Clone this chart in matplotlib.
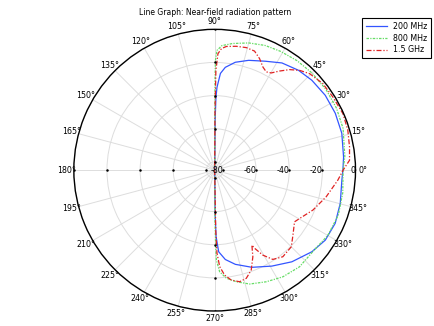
import numpy as np
import matplotlib.pyplot as plt

plt.rcParams['font.family'] = 'DejaVu Sans'
plt.rcParams['font.size'] = 5.7

title = 'Line Graph: Near-field radiation pattern'
labels = ['200 MHz', '800 MHz', '1.5 GHz']
colors = ['#3355ff', '#66dd66', '#e02222']

# angle (deg) and normalized field (dB) for each frequency
ang_200 = [-90, -89.5, -88.8, -87.2, -83.2, -77.6, -69, -59.2, -49.9, -40, -32.3, -23.8,
           -14.8, -4.5, 0, 5.8, 16.2, 25.3, 34.1, 42.8, 50, 57.9, 65.1, 72.8, 79.2,
           84.1, 86.6, 88.4, 89.0, 89.5, 90]
db_200 = [-85, -60, -45, -35.7, -30.7, -26.8, -22.2, -17.6, -12.7, -8.4, -6.0, -5.5,
          -6.6, -8.0, -7.6, -6.8, -5.1, -4.5, -4.4, -5.1, -6.3, -8.6, -12.5, -15.6, -18.7,
          -22.6, -26.5, -35, -41, -55, -85]

ang_800 = [-90, -89.7, -89.3, -88.9, -87.2, -83.8, -79, -72.9, -65.2, -57.4, -48.7, -39.1,
           -30, -20, -10, 0, 6, 18, 27, 36, 45, 53, 61, 68, 75, 82, 86.7, 88.9, 89.6,
           89.8, 90]
db_800 = [-85, -55, -40, -30.7, -23.6, -19.4, -16.4, -13.1, -10.8, -8.6, -7.4, -8.0,
          -6.2, -5.6, -6.5, -7.5, -6.0, -3.5, -2.5, -2.0, -2.0, -2.3, -3.0, -3.8, -5.5,
          -7.8, -9.7, -12.7, -18.7, -30, -85]

ang_1500 = [-90, -89, -88.4, -87, -84.6, -81.4, -77.4, -73.7, -69.9, -66.2, -63.6, -62.9,
            -60.4, -56.9, -51.8, -45, -39.7, -32.9, -29.6, -22.1, -13.4, -4.6, 0, 4.2,
            9.8, 16.7, 23.8, 31.8, 38.7, 45.5, 49.6, 53.3, 56.8, 59.8, 62.3, 64.9, 68.1,
            71.5, 75.5, 80.1, 84.6, 86.8, 88.4, 89.3, 89.7, 90]
db_1500 = [-85, -48, -34.8, -26.7, -21.4, -17.9, -16.0, -17.0, -20.8, -27.9, -34.5, -32.0,
           -26.0, -20.7, -18.5, -19.6, -23.6, -27.6, -26.0, -21.0, -15.8, -10.4, -7.5, -3.4,
           -2.4, -1.1, -0.4, -1.1, -1.4, -3.3, -5.9, -9.3, -13.5, -17.1, -18.0, -16.3, -12.4,
           -9.2, -8.6, -9.1, -10.0, -11.5, -14.7, -25, -50, -85]

r_ticks = [-80, -60, -40, -20, 0]
theta_ticks = list(range(0, 360, 15))

fig = plt.figure(figsize=(4.35, 3.26), dpi=100)
ax = fig.add_axes([0.166, 0.046, 0.655, 0.864], projection='polar')

ax.set_rlim(-85, 0)
ax.set_rticks(r_ticks)
ax.set_yticklabels([])
ax.set_thetagrids(theta_ticks, labels=[f'{t}°' for t in theta_ticks])
ax.tick_params(axis='x', pad=-5, labelsize=5.7)
ax.grid(color='#dddddd', lw=0.7)
ax.spines['polar'].set_color('black')
ax.spines['polar'].set_linewidth(1.0)

# radial labels along the 0 degree axis, tick marks on the main axes
for r in r_ticks:
    ax.text(0, r, f'{r}', ha='right', va='center', fontsize=5.7)
for t in [0, 90, 180, 270]:
    ax.plot(np.radians([t] * len(r_ticks)), r_ticks, ls='none', marker='.',
            ms=1.6, color='black', zorder=3)

ax.plot(np.radians(ang_200), db_200, color=colors[0], lw=0.9, label=labels[0])
ax.plot(np.radians(ang_800), db_800, color=colors[1], lw=0.9, ls=(0, (2, 1, 1, 1)),
        label=labels[1])
ax.plot(np.radians(ang_1500), db_1500, color=colors[2], lw=0.9, ls=(0, (4, 1.5, 1, 1.5)),
        label=labels[2])

fig.text(0.494, 0.962, title, ha='center', va='center', fontsize=5.5)
leg = fig.legend(loc='upper right', bbox_to_anchor=(0.991, 0.945), fontsize=5.7,
                 fancybox=False, framealpha=1, edgecolor='black', handlelength=2.6,
                 borderpad=0.5, labelspacing=0.35, borderaxespad=0)
leg.get_frame().set_linewidth(0.8)

fig.savefig('out.png', dpi=100)
